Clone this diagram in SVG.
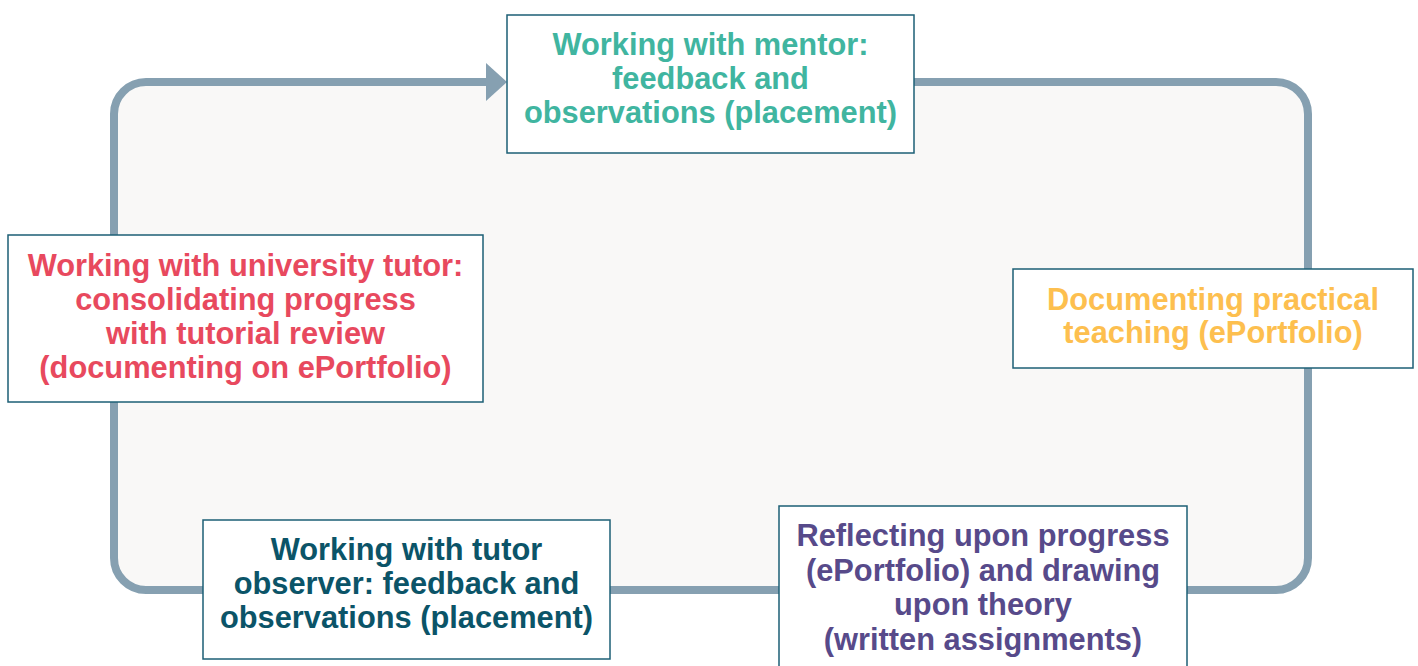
<svg xmlns="http://www.w3.org/2000/svg" width="1418" height="666" viewBox="0 0 1418 666">
<style>
.box{fill:#ffffff;stroke:#1d5f76;stroke-width:1.5}
.t{font-family:"Liberation Sans",Arial,sans-serif;font-weight:bold;font-size:30.8px;text-anchor:middle}
.loop{fill:none;stroke:#86a0b1;stroke-width:8}
</style>
<defs>
<marker id="ah" markerUnits="userSpaceOnUse" markerWidth="22" markerHeight="40" refX="1" refY="19" orient="auto">
<polygon points="0,0 21,19 0,38" fill="#86a0b1"/>
</marker>
</defs>
<rect width="1418" height="666" fill="#ffffff"/>
<rect x="114" y="82" width="1194" height="508" rx="32" fill="#f9f8f7"/>
<g id="connectors">
<path class="loop" d="M 914 82 H 1276 A 32 32 0 0 1 1308 114 V 558 A 32 32 0 0 1 1276 590 H 146 A 32 32 0 0 1 114 558 V 114 A 32 32 0 0 1 146 82 H 487" marker-end="url(#ah)"/>
</g>
<g id="mentor">
<rect class="box" x="507" y="15" width="407" height="138"/>
<text class="t" fill="#40b5a0"><tspan x="710.5" y="55">Working with mentor:</tspan><tspan x="710.5" y="89">feedback and</tspan><tspan x="710.5" y="123">observations (placement)</tspan></text>
</g>
<g id="university-tutor">
<rect class="box" x="8" y="235" width="475" height="167"/>
<text class="t" fill="#e8495e"><tspan x="245.5" y="276">Working with university tutor:</tspan><tspan x="245.5" y="310">consolidating progress</tspan><tspan x="245.5" y="344">with tutorial review</tspan><tspan x="245.5" y="378">(documenting on ePortfolio)</tspan></text>
</g>
<g id="documenting">
<rect class="box" x="1013" y="269" width="400" height="99"/>
<text class="t" fill="#fdbf4f"><tspan x="1213" y="310">Documenting practical</tspan><tspan x="1213" y="343">teaching (ePortfolio)</tspan></text>
</g>
<g id="tutor-observer">
<rect class="box" x="203" y="520" width="407" height="139"/>
<text class="t" fill="#0b5468"><tspan x="406.5" y="560">Working with tutor</tspan><tspan x="406.5" y="594">observer: feedback and</tspan><tspan x="406.5" y="628">observations (placement)</tspan></text>
</g>
<g id="reflecting">
<rect class="box" x="779" y="506" width="408" height="170"/>
<text class="t" fill="#574a8a"><tspan x="983" y="546">Reflecting upon progress</tspan><tspan x="983" y="581">(ePortfolio) and drawing</tspan><tspan x="983" y="615">upon theory</tspan><tspan x="983" y="650">(written assignments)</tspan></text>
</g>
</svg>
